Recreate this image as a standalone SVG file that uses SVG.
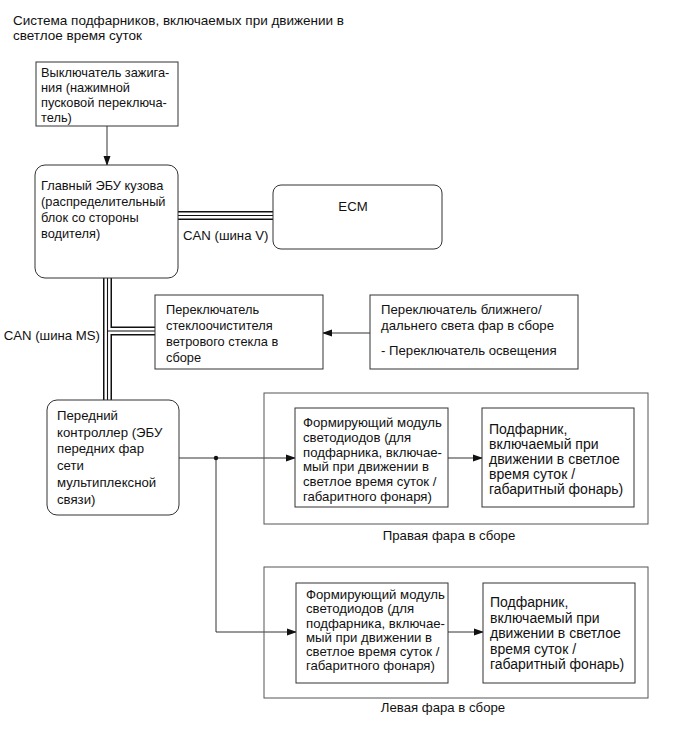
<svg xmlns="http://www.w3.org/2000/svg" width="689" height="756" viewBox="0 0 689 756">
<style>
text{font-family:"Liberation Sans",Arial,sans-serif;fill:#111;font-size:12.8px}
.ttl{font-size:13.5px}
.lb{font-size:13.2px}
.sm{font-size:12px}
.lg{font-size:14px}
.box{fill:#fff;stroke:#333;stroke-width:1}
.frame{fill:none;stroke:#555;stroke-width:1}
.ln{fill:none;stroke:#333;stroke-width:1}
.bo{fill:none;stroke:#111;stroke-width:9}
.bw{fill:none;stroke:#fff;stroke-width:6}
.bc{fill:none;stroke:#111;stroke-width:1.1}
</style>
<defs>
<marker id="ah" markerWidth="10" markerHeight="8" refX="9" refY="4" orient="auto" markerUnits="userSpaceOnUse">
<path d="M0,0.5 L10,4 L0,7.5 Z" fill="#111"/>
</marker>
</defs>
<rect width="689" height="756" fill="#fff"/>
<g id="title">
<text x="13" y="24.5" class="ttl">Система подфарников, включаемых при движении в</text>
<text x="13" y="40" class="ttl">светлое время суток</text>
</g>
<g id="connectors">
<path class="ln" d="M107,126 V165" marker-end="url(#ah)"/>
<path class="bo" d="M178,215.5 H273"/>
<path class="bo" d="M107.5,278 V400"/>
<path class="bo" d="M107.5,331 H155"/>
<path class="bw" d="M178,215.5 H273"/>
<path class="bw" d="M107.5,278 V400"/>
<path class="bw" d="M107.5,331 H155"/>
<path class="bc" d="M178,215.5 H273"/>
<path class="bc" d="M107.5,278 V400"/>
<path class="bc" d="M107.5,331 H155"/>
<path class="ln" d="M370,333 H323" marker-end="url(#ah)"/>
<path class="ln" d="M179,458 H295" marker-end="url(#ah)"/>
<path class="ln" d="M216,458 V632 H296" marker-end="url(#ah)"/>
<circle cx="216" cy="458" r="2.2" fill="#111"/>
<path class="ln" d="M448,458 H482" marker-end="url(#ah)"/>
<path class="ln" d="M448,632 H483" marker-end="url(#ah)"/>
<text class="lb" x="183" y="240">CAN (шина V)</text>
<text class="lb" x="100" y="340" text-anchor="end">CAN (шина MS)</text>
</g>
<g id="ignition">
<rect class="box" x="36" y="62" width="142" height="64"/>
<text x="41" y="76.5">Выключатель зажига-</text>
<text x="41" y="91.5">ния (нажимной</text>
<text x="41" y="106.5">пусковой переключа-</text>
<text x="41" y="121.5">тель)</text>
</g>
<g id="main-ecu">
<rect class="box" x="35" y="165" width="143" height="113" rx="10"/>
<text x="41" y="189.5">Главный ЭБУ кузова</text>
<text x="41" y="205.5">(распределительный</text>
<text x="41" y="221.5">блок со стороны</text>
<text x="41" y="237.5">водителя)</text>
</g>
<g id="ecm">
<rect class="box" x="273" y="185" width="169" height="64" rx="8"/>
<text class="lb" x="353" y="211" text-anchor="middle">ECM</text>
</g>
<g id="wiper-switch">
<rect class="box" x="155" y="295" width="168" height="74"/>
<text x="166" y="314">Переключатель</text>
<text x="166" y="330">стеклоочистителя</text>
<text x="166" y="346">ветрового стекла в</text>
<text x="166" y="362">сборе</text>
</g>
<g id="headlamp-switch">
<rect class="box" x="370" y="295" width="208" height="74"/>
<text class="lb" x="381" y="314">Переключатель ближнего/</text>
<text class="lb" x="381" y="330">дальнего света фар в сборе</text>
<text class="lb" x="381" y="355">- Переключатель освещения</text>
</g>
<g id="front-controller">
<rect class="box" x="47" y="400" width="132" height="115" rx="10"/>
<text class="lb" x="57" y="420">Передний</text>
<text class="lb" x="57" y="436.7">контроллер (ЭБУ</text>
<text class="lb" x="57" y="453.4">передних фар</text>
<text class="lb" x="57" y="470.1">сети</text>
<text class="lb" x="57" y="486.8">мультиплексной</text>
<text class="lb" x="57" y="503.5">связи)</text>
</g>
<g id="right-headlamp">
<rect class="frame" x="264" y="393" width="384" height="131"/>
<text class="lb" x="449" y="540" text-anchor="middle">Правая фара в сборе</text>
</g>
<g id="right-led-module">
<rect class="box" x="295" y="408" width="153" height="99"/>
<g transform="translate(303,0) scale(1.1,1)">
<text class="sm" x="0" y="427">Формирующий модуль</text>
<text class="sm" x="0" y="441.8">светодиодов (для</text>
<text class="sm" x="0" y="456.6">подфарника, включае-</text>
<text class="sm" x="0" y="471.4">мый при движении в</text>
<text class="sm" x="0" y="486.2">светлое время суток /</text>
<text class="sm" x="0" y="501">габаритного фонаря)</text>
</g>
</g>
<g id="right-lamp">
<rect class="box" x="482" y="408" width="152" height="99"/>
<text class="lg" x="489" y="434">Подфарник,</text>
<text class="lg" x="489" y="449">включаемый при</text>
<text class="lg" x="489" y="464">движении в светлое</text>
<text class="lg" x="489" y="479">время суток /</text>
<text class="lg" x="489" y="494">габаритный фонарь)</text>
</g>
<g id="left-headlamp">
<rect class="frame" x="264" y="567" width="384" height="131"/>
<text class="lb" x="443" y="712" text-anchor="middle">Левая фара в сборе</text>
</g>
<g id="left-led-module">
<rect class="box" x="296" y="583" width="152" height="100"/>
<g transform="translate(306,0) scale(1.1,1)">
<text class="sm" x="0" y="599">Формирующий модуль</text>
<text class="sm" x="0" y="613.3">светодиодов (для</text>
<text class="sm" x="0" y="627.6">подфарника, включае-</text>
<text class="sm" x="0" y="641.9">мый при движении в</text>
<text class="sm" x="0" y="656.2">светлое время суток /</text>
<text class="sm" x="0" y="670.5">габаритного фонаря)</text>
</g>
</g>
<g id="left-lamp">
<rect class="box" x="483" y="583" width="152" height="100"/>
<text class="lg" x="490" y="607">Подфарник,</text>
<text class="lg" x="490" y="622.5">включаемый при</text>
<text class="lg" x="490" y="638">движении в светлое</text>
<text class="lg" x="490" y="653.5">время суток /</text>
<text class="lg" x="490" y="669">габаритный фонарь)</text>
</g>
</svg>
